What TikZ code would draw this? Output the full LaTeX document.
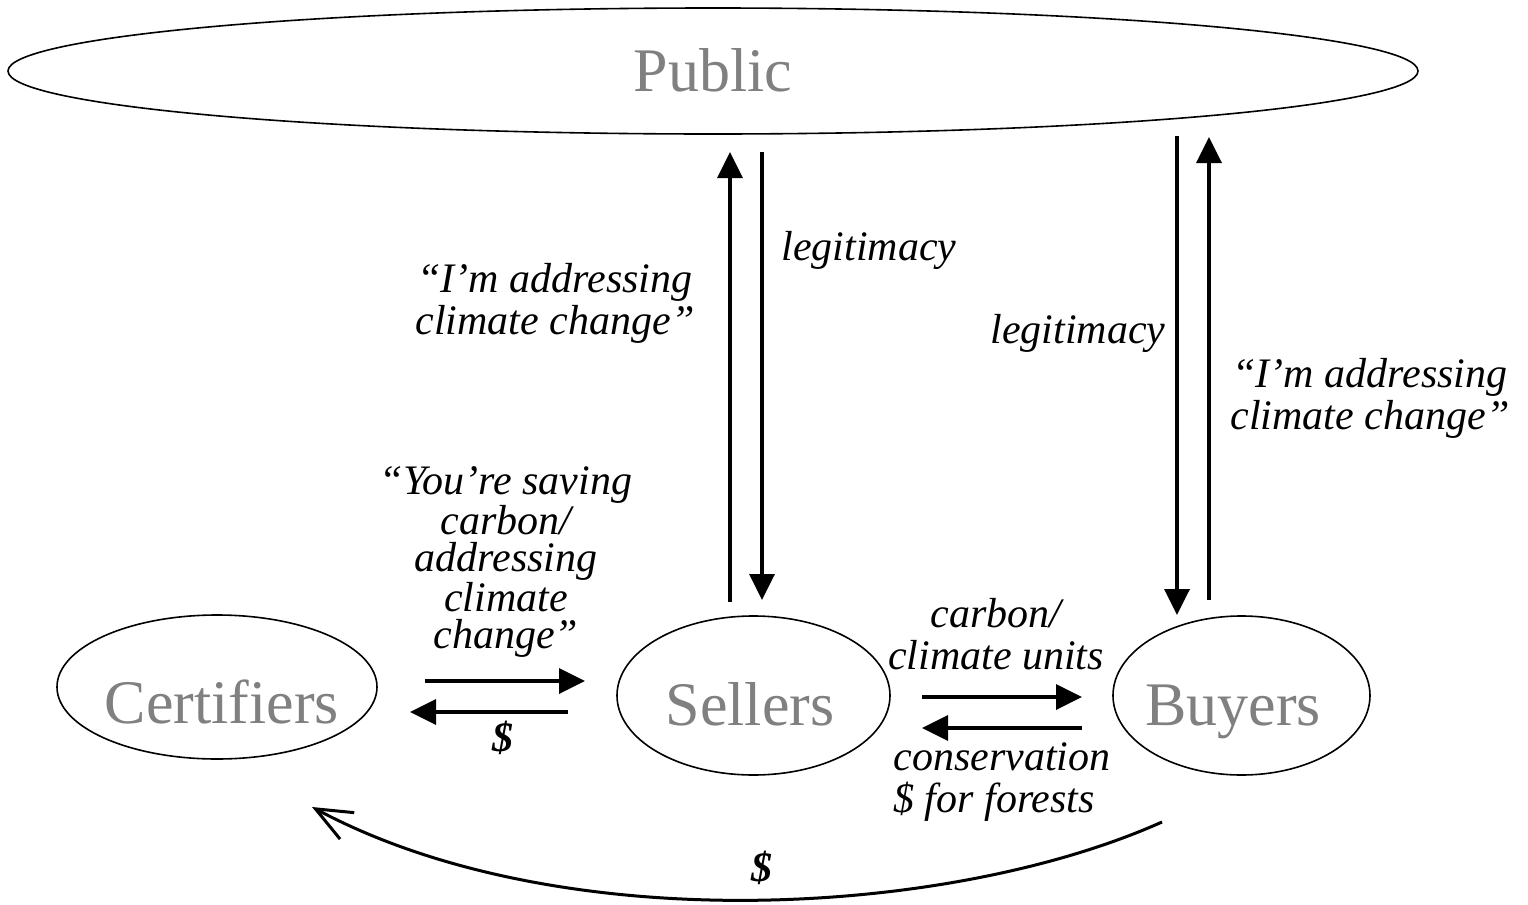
\documentclass[tikz,border=0pt]{standalone}
\usepackage{fontspec}
\setmainfont{Liberation Serif}
\usetikzlibrary{shapes.geometric, arrows.meta}
\definecolor{nodegray}{RGB}{128,128,128}
\begin{document}
\begin{tikzpicture}[x=0.5pt,y=-0.5pt,
  oval/.style={draw, ellipse, line width=0.8pt, inner sep=0pt},
  actor/.style={text=nodegray, font=\fontsize{31}{31}\selectfont, anchor=base, inner sep=0pt},
  lbl/.style={font=\fontsize{21}{21}\selectfont\itshape, align=center, inner sep=0pt},
  small/.style={font=\fontsize{21}{18.3}\selectfont\itshape, align=center, inner sep=0pt},
  money/.style={font=\fontsize{21}{21}\selectfont\bfseries\itshape, inner sep=0pt},
  flow/.style={line width=1.8pt, -{Triangle[length=13pt,width=12.5pt]}},
  curveflow/.style={line width=1.5pt, -{Straight Barb[length=18pt,width=15pt,line width=1.5pt]}},
]
\useasboundingbox (0,0) rectangle (1528,905);
% ellipses
\node[oval, minimum width=705pt, minimum height=63pt] (publicE) at (713,71) {};
\node[oval, minimum width=160pt, minimum height=72pt] (certE) at (217,687) {};
\node[oval, minimum width=136.5pt, minimum height=79.5pt] (sellE) at (753.5,695.5) {};
\node[oval, minimum width=128.5pt, minimum height=79.5pt] (buyE) at (1241.5,695.5) {};
% names
\node[actor] (public) at (713,91) {Public};
\node[actor] (cert) at (222,723) {Certifiers};
\node[actor] (sell) at (750,725) {Sellers};
\node[actor] (buy) at (1233,725) {Buyers};
% endpoints
\coordinate (su0) at (730,602); \coordinate (su1) at (730,152);
\coordinate (sd0) at (762,152); \coordinate (sd1) at (762,600);
\coordinate (bd0) at (1177,136); \coordinate (bd1) at (1177,615);
\coordinate (bu0) at (1209,600); \coordinate (bu1) at (1209,137);
\coordinate (cr0) at (425,681); \coordinate (cr1) at (585,681);
\coordinate (cl0) at (568,712); \coordinate (cl1) at (410,712);
\coordinate (sr0) at (922,697); \coordinate (sr1) at (1082,697);
\coordinate (sl0) at (1082,728); \coordinate (sl1) at (922,728);
\coordinate (m0) at (1162,822); \coordinate (m1) at (312,807);
% arrows
\draw[flow] (su0) -- (su1);
\draw[flow] (sd0) -- (sd1);
\draw[flow] (bd0) -- (bd1);
\draw[flow] (bu0) -- (bu1);
\draw[flow] (cr0) -- (cr1);
\draw[flow] (cl0) -- (cl1);
\draw[flow] (sr0) -- (sr1);
\draw[flow] (sl0) -- (sl1);
\draw[curveflow] (m0) .. controls (950,917) and (560,940) .. (m1);
% labels
\node[lbl] (l1) at (555,303) {“I’m addressing\\climate change”};
\node[lbl] (l2) at (869,250) {legitimacy};
\node[lbl] (l3) at (1078,333) {legitimacy};
\node[lbl] (l4) at (1370,398) {“I’m addressing\\climate change”};
\node[small] (l5) at (506,562) {“You’re saving\\carbon/\\addressing\\climate\\change”};
\node[money] (l6) at (503,738) {\$};
\node[lbl] (l7) at (996,634) {carbon/\\climate units};
\node[lbl, align=left, anchor=west] (l8) at (893,782) {conservation\\\$ for forests};
\node[money] (l9) at (762,868) {\$};
\end{tikzpicture}
\end{document}
